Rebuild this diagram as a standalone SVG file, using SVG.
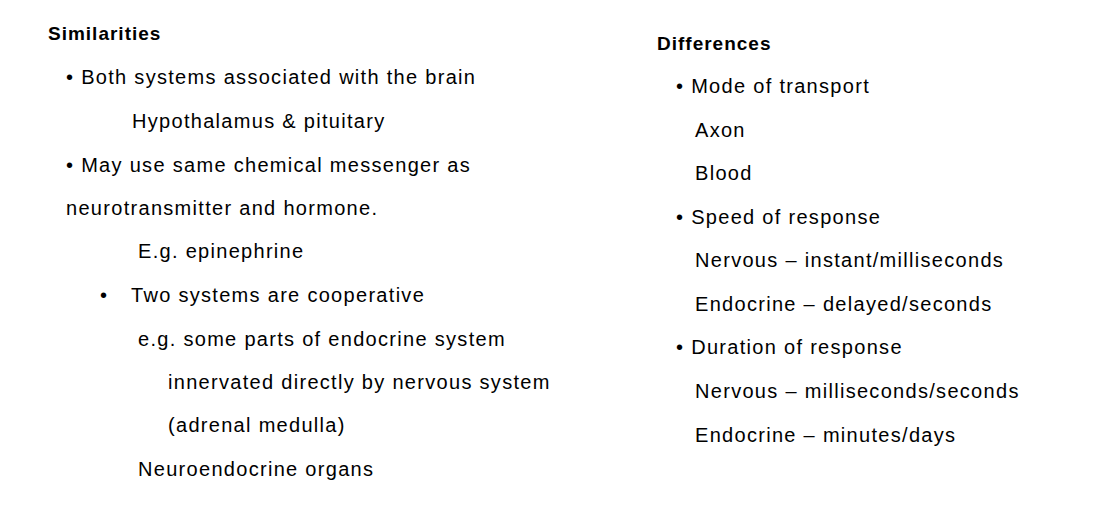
<svg xmlns="http://www.w3.org/2000/svg" width="1116" height="509" viewBox="0 0 1116 509">
<style>
text{font-family:"Liberation Sans",Arial,sans-serif;font-size:20px;fill:#000;letter-spacing:1.3px}
.h{font-weight:bold;font-size:19px;letter-spacing:1px}
</style>
<rect width="1116" height="509" fill="#fff"/>
<text class="h" x="48" y="40">Similarities</text>
<text x="66" y="84">• Both systems associated with the brain</text>
<text x="132" y="128">Hypothalamus &amp; pituitary</text>
<text x="66" y="172">• May use same chemical messenger as</text>
<text x="66" y="215">neurotransmitter and hormone.</text>
<text x="138" y="258">E.g. epinephrine</text>
<text x="100" y="302">•</text>
<text x="131" y="302">Two systems are cooperative</text>
<text x="138" y="346">e.g. some parts of endocrine system</text>
<text x="168" y="389">innervated directly by nervous system</text>
<text x="168" y="432">(adrenal medulla)</text>
<text x="138" y="476">Neuroendocrine organs</text>
<text class="h" x="657" y="50">Differences</text>
<text x="676" y="93">• Mode of transport</text>
<text x="695" y="137">Axon</text>
<text x="695" y="180">Blood</text>
<text x="676" y="224">• Speed of response</text>
<text x="695" y="267">Nervous – instant/milliseconds</text>
<text x="695" y="311">Endocrine – delayed/seconds</text>
<text x="676" y="354">• Duration of response</text>
<text x="695" y="398">Nervous – milliseconds/seconds</text>
<text x="695" y="442">Endocrine – minutes/days</text>
</svg>
